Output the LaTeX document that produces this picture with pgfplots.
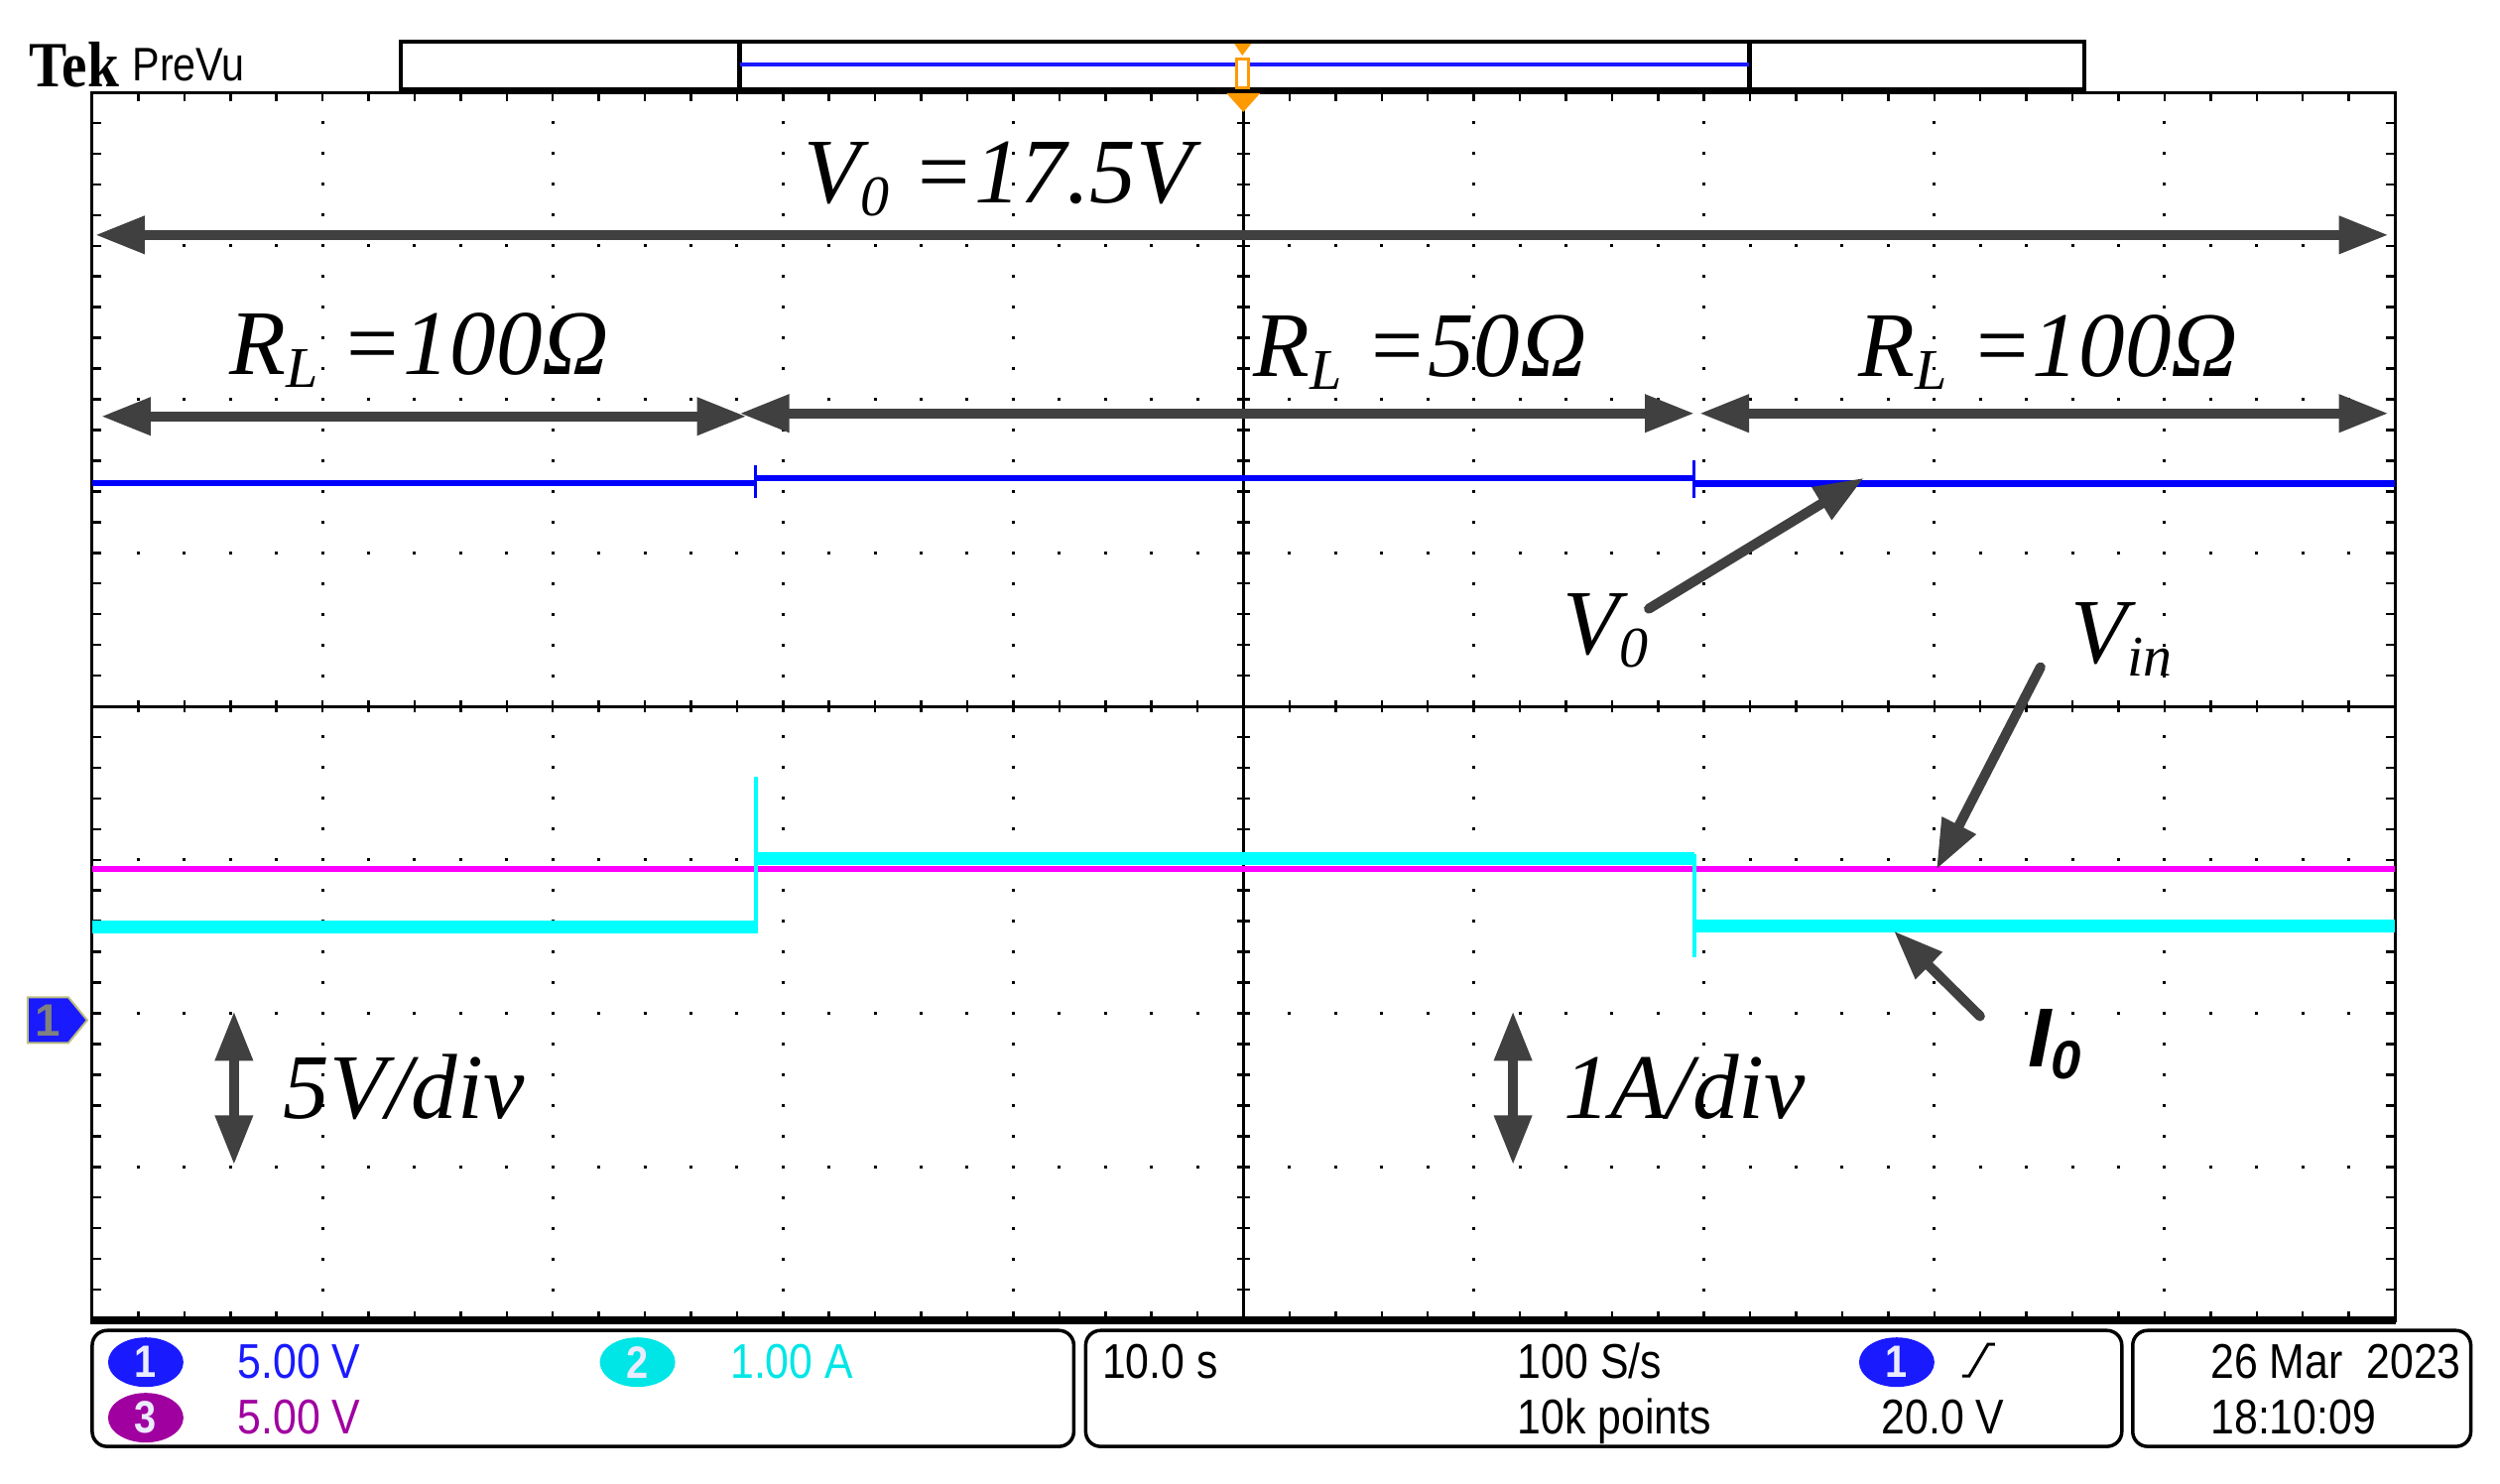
\documentclass[border=0pt]{standalone}
\usepackage{pgfplots}
\pgfplotsset{compat=1.18}
\usetikzlibrary{arrows.meta}
\usepackage{fontspec}
\setmainfont{Liberation Serif}
\newfontfamily\tekfont[FakeStretch=0.87]{Liberation Sans}
\newfontfamily\logofont[FakeStretch=0.88]{Liberation Serif}
\newfontfamily\labfont{Liberation Sans}

\definecolor{tblue}{RGB}{0,0,255}
\definecolor{tcyan}{RGB}{0,255,255}
\definecolor{tmag}{RGB}{255,0,255}
\definecolor{ovblue}{RGB}{26,26,255}
\definecolor{ovcyan}{RGB}{0,230,230}
\definecolor{ovpurp}{RGB}{160,0,160}
\definecolor{annot}{RGB}{64,64,64}
\definecolor{trig}{RGB}{255,153,0}
\definecolor{khaki}{RGB}{190,190,130}

\newcommand\sub[1]{\raisebox{-0.13cm}{\fontsize{16.5pt}{16.5pt}\selectfont\itshape #1}}

% traces, x in s (10 s/div), y in divisions
\pgfplotstableread{
x y
0 1.455
28.82 1.455
}\vzeroA

\begin{document}
\begin{tikzpicture}
\useasboundingbox (0,0) rectangle (25.2cm,14.95cm);

\begin{axis}[
    at={(0.93cm,1.64cm)}, anchor=south west,
    scale only axis, width=23.21cm, height=12.38cm,
    xmin=0, xmax=100, ymin=-4, ymax=4,
    xtick={0,10,...,100}, ytick={-4,-3,...,4},
    minor x tick num=4, minor y tick num=4,
    xticklabels={}, yticklabels={},
    tick align=inside,
    major tick length=0.09cm, minor tick length=0.09cm,
    every tick/.style={black, line width=0.025cm},
    axis line style={black, line width=0.03cm},
    xmajorgrids, ymajorgrids,
    x grid style={black, line width=0.03cm, dash pattern=on 0.03cm off 0.2795cm, dash phase=0.015cm},
    y grid style={black, line width=0.03cm, dash pattern=on 0.03cm off 0.4342cm, dash phase=0.015cm},
    clip=false,
  ]
  % centre crosshair
  \draw[black, line width=0.03cm] (axis cs:50,-4) -- (axis cs:50,4);
  \draw[black, line width=0.03cm] (axis cs:0,0) -- (axis cs:100,0);
  \pgfplotsinvokeforeach{2,4,...,98}{
    \draw[black, line width=0.025cm] (axis cs:#1,-0.04) -- (axis cs:#1,0.04);}
  \pgfplotsinvokeforeach{-3.8,-3.6,...,3.8}{
    \draw[black, line width=0.025cm] (axis cs:49.74,#1) -- (axis cs:50.26,#1);}

  % Vin (ch3)
  \addplot[tmag, line width=0.06cm] coordinates {(0,-1.06) (100,-1.06)};
  % Io (ch2)
  \addplot[tcyan, line width=0.13cm] coordinates {(0,-1.44) (28.84,-1.44)};
  \addplot[tcyan, line width=0.13cm] coordinates {(28.84,-0.995) (69.58,-0.995)};
  \addplot[tcyan, line width=0.13cm] coordinates {(69.58,-1.43) (100,-1.43)};
  \addplot[tcyan, line width=0.04cm] coordinates {(28.84,-1.48) (28.84,-0.46)};
  \addplot[tcyan, line width=0.04cm] coordinates {(69.58,-0.96) (69.58,-1.635)};
  % Vo (ch1)
  \addplot[tblue, line width=0.06cm] table {\vzeroA};
  \addplot[tblue, line width=0.06cm] coordinates {(28.82,1.487) (69.58,1.487)};
  \addplot[tblue, line width=0.07cm] coordinates {(69.58,1.45) (100,1.45)};
  \addplot[tblue, line width=0.03cm] coordinates {(28.82,1.36) (28.82,1.57)};
  \addplot[tblue, line width=0.03cm] coordinates {(69.58,1.36) (69.58,1.60)};
\end{axis}

\begin{scope}[x=0.01cm, y=-0.01cm, shift={(0,14.95cm)},
    lab/.style={anchor=base west, inner sep=0pt, font=\fontsize{26.5pt}{30pt}\selectfont\itshape},
    dbl/.style={annot, line width=0.1cm, {Triangle[length=0.5cm,width=0.36cm]}-{Triangle[length=0.5cm,width=0.36cm]}},
    arr/.style={annot, line width=0.1cm, line cap=round, -{Triangle[length=0.5cm,width=0.36cm]}},
    pan/.style={anchor=base west, inner sep=0pt, font=\tekfont\fontsize{14pt}{14pt}\selectfont}]
  % thick bottom edge of the graticule
  \draw[black, line width=0.08cm] (91,1332) -- (2416,1332);

  % top record bar
  \node[anchor=base west, inner sep=0pt, font=\logofont\bfseries\fontsize{18.5pt}{18.5pt}\selectfont] at (29,88) {Tek};
  \node[anchor=base west, inner sep=0pt, font=\tekfont\fontsize{13.5pt}{13.5pt}\selectfont] at (133,82) {PreVu};
  \draw[black, line width=0.035cm, fill=white] (404,42) rectangle (2102,90);
  \draw[black, line width=0.05cm] (746,42) -- (746,90);
  \draw[black, line width=0.05cm] (1764,42) -- (1764,90);
  \draw[ovblue, line width=0.04cm] (746,65) -- (1764,65);
  \fill[trig] (1245,44) -- (1262,44) -- (1253,56) -- cycle;
  \draw[trig, line width=0.03cm, fill=white] (1247,60) rectangle (1259,89);
  \fill[trig] (1237,94) -- (1271,94) -- (1254,113) -- cycle;

  % ch1 ground marker
  \fill[ovblue, draw=khaki, line width=0.02cm] (28,1006) -- (69,1006) -- (88,1029) -- (69,1052) -- (28,1052) -- cycle;
  \node[inner sep=0pt, text=gray, font=\labfont\bfseries\fontsize{13pt}{13pt}\selectfont] at (48,1029) {1};

  % annotations
  \draw[dbl] (96,237) -- (2409,237);
  \draw[dbl] (102,420) -- (753,420);
  \draw[dbl] (746,417) -- (1709,417);
  \draw[dbl] (1714,417) -- (2409,417);
  \node[lab] at (810,205) {V\sub{0} =17.5V};
  \node[lab] at (231,378) {R\sub{L} =100Ω};
  \node[lab] at (1264,380) {R\sub{L} =50Ω};
  \node[lab] at (1874,380) {R\sub{L} =100Ω};

  \draw[arr] (1663,614) -- (1880,482);
  \node[lab] at (1576,660) {V\sub{0}};
  \draw[arr] (2058,673) -- (1953,877);
  \node[lab] at (2088,669) {V\sub{in}};
  \draw[arr] (1997,1025) -- (1910,939);
  \node[anchor=base west, inner sep=0pt, font=\labfont\bfseries\itshape\fontsize{24pt}{24pt}\selectfont] at (2045,1076)
    {I\raisebox{-0.12cm}{\fontsize{15.5pt}{15.5pt}\selectfont 0}};

  \draw[dbl] (236,1020) -- (236,1175);
  \node[lab] at (285,1128) {5V/div};
  \draw[dbl] (1526,1020) -- (1526,1175);
  \node[lab] at (1577,1128) {1A/div};

  % status panel
  \draw[black, line width=0.035cm, rounded corners=0.15cm] (93,1342) rectangle (1083,1459);
  \draw[black, line width=0.035cm, rounded corners=0.15cm] (1095,1342) rectangle (2140,1459);
  \draw[black, line width=0.035cm, rounded corners=0.15cm] (2151,1342) rectangle (2492,1459);
  \foreach \cx/\cy/\col/\num in {147/1374/ovblue/1, 643/1374/ovcyan/2, 147/1430/ovpurp/3, 1913/1374/ovblue/1} {
    \fill[\col] (\cx,\cy) ellipse [x radius=38, y radius=25];
    \node[inner sep=0pt, text={rgb,255:red,235;green,235;blue,255}, font=\tekfont\bfseries\fontsize{13pt}{13pt}\selectfont] at (\cx,\cy) {\num};
  }
  \node[pan, text=ovblue] at (239,1390) {5.00 V};
  \node[pan, text=ovcyan] at (736,1390) {1.00 A};
  \node[pan, text=ovpurp] at (239,1446) {5.00 V};
  \node[pan] at (1111,1390) {10.0 s};
  \node[pan] at (1530,1390) {100 S/s};
  \node[pan] at (1530,1446) {10k points};
  \draw[black, line width=0.03cm] (1979,1388) -- (1986,1388) -- (2005,1356) -- (2012,1356);
  \node[pan] at (1897,1446) {20.0 V};
  \node[pan] at (2229,1390) {26 Mar\ \ 2023};
  \node[pan] at (2229,1446) {18:10:09};
\end{scope}
\end{tikzpicture}
\end{document}
